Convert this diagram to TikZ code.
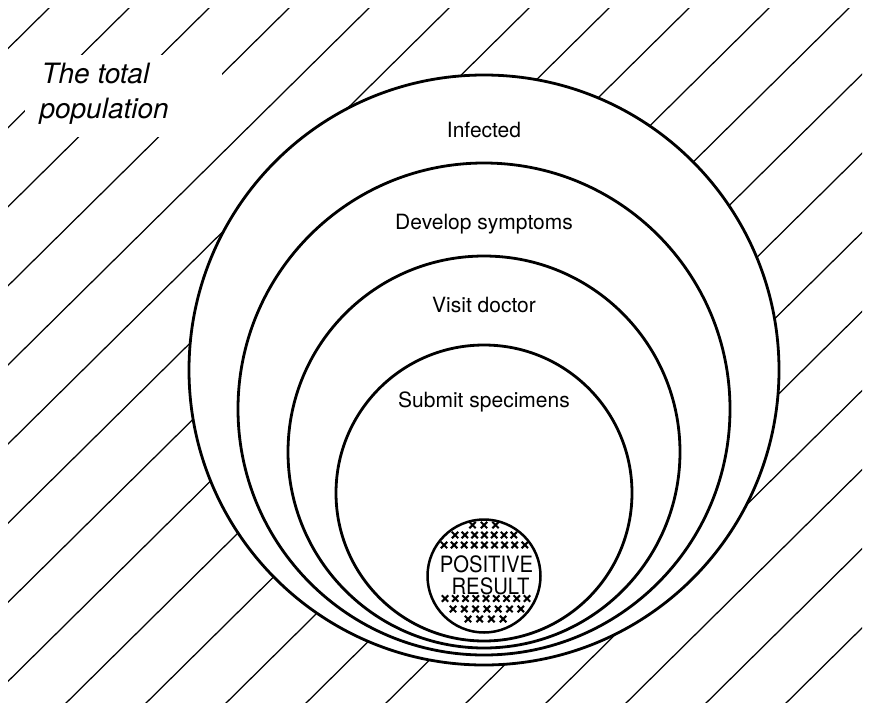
\documentclass[tikz,border=0pt]{standalone}
\usepackage{fontspec}
\usepackage{graphicx}
\setmainfont{TeX Gyre Heros}
\newcommand\crossat[2]{\draw[xmk] (#1-3.2,#2-3.2) -- (#1+3.2,#2+3.2) (#1-3.2,#2+3.2) -- (#1+3.2,#2-3.2);}
\begin{document}
\begin{tikzpicture}[x=1pt,y=-1pt,
  ring/.style={circle, draw, line width=2.8pt, inner sep=0pt, outer sep=0pt},
  hatch/.style={line width=1.25pt},
  lbl/.style={font=\fontsize{21}{25}\selectfont, anchor=base},
  big/.style={font=\fontsize{28}{35}\selectfont\itshape, anchor=base west},
  postxt/.style={font=\fontsize{22.5}{20}\selectfont, anchor=base, inner sep=0pt},
  xmk/.style={line width=2.1pt}]
\useasboundingbox (0,0) rectangle (870,702);
\fill[white] (0,0) rectangle (870,702);
% hatching of the total population
\begin{scope}
  \clip (8,8) rectangle (862,702);
  \foreach \k in {0,...,18}{
    \pgfmathsetmacro\xt{49+80*\k}
    \draw[hatch] (\xt+10.1,-2) -- (\xt-710,710);
  }
\end{scope}
\fill[white] (25,55) rectangle (222,137);
% nested sets
\node[ring, fill=white, minimum size=590pt] (infected) at (484,370) {};
\node[ring, minimum size=492pt] (symptoms) at (484,409) {};
\node[ring, minimum size=392pt] (doctor) at (484,452) {};
\node[ring, minimum size=296pt] (specimens) at (484,493) {};
\node[ring, line width=2.5pt, minimum size=113pt] (positive) at (484,576) {};
% labels
\node[big] (total1) at (38,83) {The total};
\node[big] (total2) at (36,118) {population};
\node[lbl] (tinf) at (484,137) {Infected};
\node[lbl] (tsym) at (484,229) {Develop symptoms};
\node[lbl] (tdoc) at (484,312) {Visit doctor};
\node[lbl] (tspe) at (484,407) {Submit specimens};
\node[postxt] (tpos) at (486.5,572.5) {\scalebox{0.9}[1]{POSITIVE}};
\node[postxt] (tres) at (490.5,594) {\scalebox{0.9}[1]{RESULT}};
% crosses
\foreach \i in {0,...,2}{\crossat{472.5+11.5*\i}{525}}
\foreach \i in {0,...,6}{\crossat{455+9.8*\i}{535}}
\foreach \i in {0,...,8}{\crossat{444+10.1*\i}{545}}
\foreach \i in {0,...,8}{\crossat{445+10.25*\i}{598.5}}
\foreach \i in {0,...,6}{\crossat{453+11.3*\i}{609}}
\foreach \i in {0,...,3}{\crossat{468+11.7*\i}{619}}
\end{tikzpicture}
\end{document}
